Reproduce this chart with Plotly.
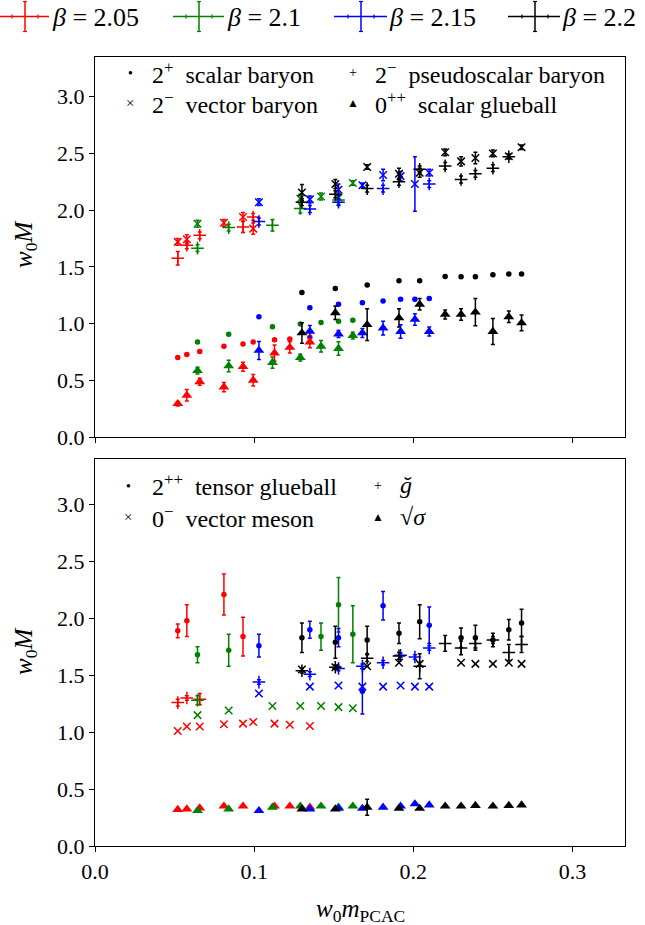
import plotly.graph_objects as go

# ---------------- data ----------------
beta_labels = ["2.05", "2.1", "2.15", "2.2"]
beta_colors = ["#ff0000", "#008000", "#0000ff", "#000000"]

# w0 m_PCAC per beta
m_205 = [0.052, 0.0577, 0.0658, 0.081, 0.093, 0.0994, 0.1128, 0.1224, 0.135]
m_21 = [0.0644, 0.084, 0.1115, 0.129, 0.142, 0.153, 0.162]
m_215 = [0.103, 0.135, 0.153, 0.168, 0.181, 0.192, 0.201, 0.210]
m_22 = [0.130, 0.151, 0.171, 0.191, 0.204, 0.220, 0.230, 0.239, 0.250, 0.260, 0.268]

# --- top panel: 2+ scalar baryon
scalar_baryon_205 = [0.70, 0.727, 0.754, 0.80, 0.82, 0.837, 0.857, 0.864, 0.88]
scalar_baryon_21 = [0.837, 0.905, 0.973, 0.997, 1.01, 1.02, 1.03]
scalar_baryon_215 = [1.06, 1.14, 1.17, 1.184, 1.20, 1.214, 1.214, 1.22]
scalar_baryon_22 = [1.273, 1.31, 1.34, 1.377, 1.377, 1.416, 1.413, 1.413, 1.43, 1.436, 1.436]
scalar_baryon_err_205 = [0.01, 0.01, 0.01, 0.01, 0.01, 0.01, 0.01, 0.01, 0.01]
scalar_baryon_err_21 = [0.01, 0.01, 0.01, 0.01, 0.01, 0.01, 0.01]
scalar_baryon_err_215 = [0.01, 0.01, 0.01, 0.01, 0.01, 0.01, 0.01, 0.01]
scalar_baryon_err_22 = [0.01, 0.01, 0.01, 0.01, 0.01, 0.01, 0.01, 0.01, 0.01, 0.01, 0.01]

# --- top panel: 2- pseudoscalar baryon
pseudo_baryon_205 = [1.576, 1.69, 1.778, None, 1.852, 1.94, None, None, None]
pseudo_baryon_21 = [1.665, 1.846, 1.867, 2.015, None, 2.09, None]
pseudo_baryon_215 = [1.90, 2.01, 2.07, None, 2.19, None, None, 2.23]
pseudo_baryon_22 = [2.07, 2.14, 2.19, 2.25, 2.36, 2.39, 2.27, 2.32, 2.37, 2.47, None]
pseudo_baryon_err_205 = [0.06, 0.03, 0.03, 0.0, 0.05, 0.03, 0.0, 0.0, 0.0]
pseudo_baryon_err_21 = [0.03, 0.03, 0.05, 0.04, 0.0, 0.04, 0.0]
pseudo_baryon_err_215 = [0.03, 0.03, 0.03, 0.0, 0.03, 0.0, 0.0, 0.03]
pseudo_baryon_err_22 = [0.03, 0.03, 0.03, 0.03, 0.03, 0.03, 0.03, 0.03, 0.03, 0.02, 0.0]

# --- top panel: 2- vector baryon
vector_baryon_205 = [1.72, 1.743, None, 1.888, 1.94, 1.837, None, None, None]
vector_baryon_21 = [1.88, None, None, 2.10, 2.12, 2.11, 2.24]
vector_baryon_215 = [2.07, 2.095, 2.18, 2.22, 2.31, 2.30, 2.23, 2.33]
vector_baryon_22 = [2.155, 2.23, 2.38, 2.32, 2.33, 2.51, 2.43, 2.46, 2.50, 2.475, 2.555]
vector_baryon_err_205 = [0.03, 0.04, 0.0, 0.03, 0.04, 0.05, 0.0, 0.0, 0.0]
vector_baryon_err_21 = [0.03, 0.0, 0.0, 0.04, 0.03, 0.04, 0.02]
vector_baryon_err_215 = [0.03, 0.03, 0.05, 0.02, 0.05, 0.04, 0.24, 0.03]
vector_baryon_err_22 = [0.07, 0.04, 0.02, 0.05, 0.04, 0.03, 0.04, 0.05, 0.03, 0.02, 0.02]

# --- top panel: 0++ scalar glueball
scalar_glue_205 = [0.294, 0.368, 0.487, 0.44, 0.62, 0.50, 0.74, 0.79, 0.837]
scalar_glue_21 = [0.585, 0.626, 0.656, 0.70, 0.80, 0.78, 0.893]
scalar_glue_215 = [0.763, 0.932, 0.908, 0.917, 0.96, 0.93, 1.036, 0.93]
scalar_glue_22 = [0.917, 1.095, 0.99, 1.05, 1.17, 1.08, 1.08, 1.10, 0.93, 1.06, 1.006]
scalar_glue_err_205 = [0.02, 0.05, 0.03, 0.04, 0.04, 0.05, 0.07, 0.05, 0.05]
scalar_glue_err_21 = [0.03, 0.05, 0.05, 0.03, 0.05, 0.06, 0.03]
scalar_glue_err_215 = [0.08, 0.05, 0.03, 0.04, 0.06, 0.06, 0.05, 0.04]
scalar_glue_err_22 = [0.09, 0.06, 0.14, 0.08, 0.05, 0.04, 0.05, 0.12, 0.115, 0.05, 0.07]

# --- bottom panel: 2++ tensor glueball
tensor_glue_205 = [1.89, 1.98, None, 2.21, 1.84, None, None, None, None]
tensor_glue_21 = [1.68, 1.72, None, None, 1.84, 2.12, 1.86]
tensor_glue_215 = [1.76, 1.90, 1.83, 1.36, 2.11, None, None, 1.94]
tensor_glue_22 = [1.83, 1.79, 1.81, 1.87, 1.97, None, 1.83, 1.83, 1.81, 1.90, 1.96]
tensor_glue_err_205 = [0.06, 0.14, 0.0, 0.18, 0.17, 0.0, 0.0, 0.0, 0.0]
tensor_glue_err_21 = [0.07, 0.14, 0.0, 0.0, 0.12, 0.24, 0.25]
tensor_glue_err_215 = [0.10, 0.075, 0.08, 0.20, 0.125, 0.0, 0.0, 0.16]
tensor_glue_err_22 = [0.13, 0.14, 0.12, 0.09, 0.15, 0.0, 0.085, 0.11, 0.06, 0.09, 0.12]

# --- bottom panel: g-check
gcheck_205 = [1.26, 1.30, 1.29, None, None, None, None, None, None]
gcheck_21 = [1.28, None, None, None, None, None, None]
gcheck_215 = [1.44, 1.51, 1.56, 1.58, 1.61, 1.675, 1.66, 1.74]
gcheck_22 = [1.54, 1.57, 1.65, 1.67, 1.58, 1.78, 1.74, 1.78, 1.81, 1.70, 1.77]
gcheck_err_205 = [0.03, 0.02, 0.05, 0.0, 0.0, 0.0, 0.0, 0.0, 0.0]
gcheck_err_21 = [0.04, 0.0, 0.0, 0.0, 0.0, 0.0, 0.0]
gcheck_err_215 = [0.02, 0.02, 0.02, 0.02, 0.02, 0.02, 0.02, 0.02]
gcheck_err_22 = [0.02, 0.02, 0.03, 0.03, 0.11, 0.07, 0.06, 0.04, 0.03, 0.07, 0.07]

# --- bottom panel: 0- vector meson
vector_meson_205 = [1.01, 1.05, 1.05, 1.07, 1.075, 1.09, 1.075, 1.065, 1.055]
vector_meson_21 = [1.15, 1.19, 1.23, 1.23, 1.23, 1.22, 1.21]
vector_meson_215 = [1.34, 1.40, 1.41, 1.40, 1.40, 1.41, 1.40, 1.40]
vector_meson_22 = [1.55, 1.57, 1.58, 1.61, 1.60, None, 1.61, 1.60, 1.60, 1.61, 1.60]

# --- bottom panel: sqrt(sigma)
sqrt_sigma_205 = [0.32, 0.325, 0.333, 0.35, 0.35, None, 0.35, 0.35, 0.34]
sqrt_sigma_21 = [0.31, 0.325, 0.34, 0.35, 0.35, 0.34, 0.35]
sqrt_sigma_215 = [0.31, 0.325, 0.33, 0.33, 0.34, 0.35, 0.37, 0.36]
sqrt_sigma_22 = [0.325, 0.325, 0.34, 0.33, 0.33, 0.35, 0.35, 0.355, 0.35, 0.355, 0.36]
sqrt_sigma_err_22 = [0.005, 0.005, 0.07, 0.005, 0.005, 0.005, 0.005, 0.005, 0.005, 0.005, 0.005]

x_ticks = [0.0, 0.1, 0.2, 0.3]
y_ticks = [0.0, 0.5, 1.0, 1.5, 2.0, 2.5, 3.0]

# ---------------- figure ----------------
FONT = "Liberation Serif"
W, H = 645, 925
L, R, T, B = 95, 20, 57, 79


def px_x(p):
    return (p - L) / (W - L - R)


def px_y(p):
    return (H - B - p) / (H - T - B)


top_dom = [px_y(437), 1.0]
bot_dom = [0.0, px_y(459)]

fig = go.Figure()

styles = {
    "dot": dict(symbol="circle", size=5.5),
    "plus": dict(symbol="cross-thin", size=9),
    "x": dict(symbol="x-thin", size=7.5),
    "tri": dict(symbol="triangle-up", size=9.5),
}


def add(xs, ys, errs, color, kind, panel):
    mk = dict(styles[kind])
    mk["color"] = color
    if kind in ("plus", "x"):
        mk["line"] = dict(color=color, width=1.5)
    else:
        mk["line"] = dict(width=0)
    tr = dict(
        x=xs, y=ys, mode="markers", marker=mk, showlegend=False,
        hoverinfo="x+y",
        xaxis="x" if panel == 0 else "x2",
        yaxis="y" if panel == 0 else "y2",
    )
    if errs is not None:
        tr["error_y"] = dict(type="data", array=errs, visible=True,
                             color=color, thickness=1.5, width=2)
    fig.add_trace(go.Scatter(**tr))


ms = [m_205, m_21, m_215, m_22]
top_sets = [
    ([scalar_baryon_205, scalar_baryon_21, scalar_baryon_215, scalar_baryon_22],
     [scalar_baryon_err_205, scalar_baryon_err_21, scalar_baryon_err_215, scalar_baryon_err_22], "dot"),
    ([pseudo_baryon_205, pseudo_baryon_21, pseudo_baryon_215, pseudo_baryon_22],
     [pseudo_baryon_err_205, pseudo_baryon_err_21, pseudo_baryon_err_215, pseudo_baryon_err_22], "plus"),
    ([vector_baryon_205, vector_baryon_21, vector_baryon_215, vector_baryon_22],
     [vector_baryon_err_205, vector_baryon_err_21, vector_baryon_err_215, vector_baryon_err_22], "x"),
    ([scalar_glue_205, scalar_glue_21, scalar_glue_215, scalar_glue_22],
     [scalar_glue_err_205, scalar_glue_err_21, scalar_glue_err_215, scalar_glue_err_22], "tri"),
]
bot_sets = [
    ([tensor_glue_205, tensor_glue_21, tensor_glue_215, tensor_glue_22],
     [tensor_glue_err_205, tensor_glue_err_21, tensor_glue_err_215, tensor_glue_err_22], "dot"),
    ([gcheck_205, gcheck_21, gcheck_215, gcheck_22],
     [gcheck_err_205, gcheck_err_21, gcheck_err_215, gcheck_err_22], "plus"),
    ([vector_meson_205, vector_meson_21, vector_meson_215, vector_meson_22],
     [None, None, None, None], "x"),
    ([sqrt_sigma_205, sqrt_sigma_21, sqrt_sigma_215, sqrt_sigma_22],
     [None, None, None, sqrt_sigma_err_22], "tri"),
]

for b in range(4):
    for vals, errs, kind in top_sets:
        add(ms[b], vals[b], errs[b], beta_colors[b], kind, 0)
    for vals, errs, kind in bot_sets:
        add(ms[b], vals[b], errs[b], beta_colors[b], kind, 1)

axis_common = dict(
    showline=True, linecolor="black", linewidth=1.2, mirror=True,
    ticks="outside", ticklen=5, tickwidth=1.2, tickcolor="black",
    showgrid=False, zeroline=False,
    tickfont=dict(family=FONT, size=22, color="black"),
)

fig.update_layout(
    width=W, height=H,
    margin=dict(l=L, r=R, t=T, b=B),
    paper_bgcolor="white", plot_bgcolor="white",
    xaxis=dict(axis_common, domain=[0, 1], range=[0, 0.333], anchor="y",
               tickvals=x_ticks, showticklabels=False),
    yaxis=dict(axis_common, domain=top_dom, range=[0, 3.35], anchor="x",
               tickvals=y_ticks, tickformat=".1f"),
    xaxis2=dict(axis_common, domain=[0, 1], range=[0, 0.333], anchor="y2",
                matches="x", tickvals=x_ticks, tickformat=".1f"),
    yaxis2=dict(axis_common, domain=bot_dom, range=[0, 3.40], anchor="x2",
                tickvals=y_ticks, tickformat=".1f"),
    showlegend=False,
)

ann = []
shapes = []


def text(x, y, s, size=22, xanchor="left", angle=0, yanchor="middle"):
    ann.append(dict(x=x, y=y, xref="paper", yref="paper", text=s,
                    showarrow=False, xanchor=xanchor, yanchor=yanchor,
                    textangle=angle,
                    font=dict(family=FONT, size=size, color="black")))


def line(x0, y0, x1, y1, color, w=1.5):
    shapes.append(dict(type="line", xref="paper", yref="paper",
                       x0=x0, y0=y0, x1=x1, y1=y1,
                       line=dict(color=color, width=w)))


# beta legend above the panels
leg_pos = [(0, 49, 25, 50), (173, 224, 199, 225), (334, 387, 361, 387), (508, 560, 535, 560)]
ly = 16.5
for (a, b2, c, t), col, lab in zip(leg_pos, beta_colors, beta_labels):
    line(px_x(a), px_y(ly), px_x(b2), px_y(ly), col, 1.5)
    line(px_x(c), px_y(ly - 15), px_x(c), px_y(ly + 15), col, 1.5)
    line(px_x(c - 2), px_y(ly - 15), px_x(c + 2), px_y(ly - 15), col, 1.2)
    line(px_x(c - 2), px_y(ly + 15), px_x(c + 2), px_y(ly + 15), col, 1.2)
    line(px_x(c - 13), px_y(ly - 2), px_x(c - 13), px_y(ly + 2), col, 1.2)
    line(px_x(c + 13), px_y(ly - 2), px_x(c + 13), px_y(ly + 2), col, 1.2)
    text(px_x(t), px_y(ly + 1), "<i>β</i> = " + lab, size=26)

# inner legend, top panel
LS = 24
text(px_x(130), px_y(73), "●", size=8, xanchor="center")
text(px_x(150), px_y(73), "2<sup>+</sup>&nbsp; scalar baryon", size=LS)
text(px_x(353), px_y(73), "+", size=14, xanchor="center")
text(px_x(373), px_y(73), "2<sup>−</sup>&nbsp; pseudoscalar baryon", size=LS)
text(px_x(130), px_y(103), "×", size=15, xanchor="center")
text(px_x(150), px_y(103), "2<sup>−</sup>&nbsp; vector baryon", size=LS)
text(px_x(353), px_y(103), "▲", size=12, xanchor="center")
text(px_x(373), px_y(103), "0<sup>++</sup>&nbsp; scalar glueball", size=LS)

# inner legend, bottom panel
text(px_x(128), px_y(485), "●", size=8, xanchor="center")
text(px_x(150), px_y(485), "2<sup>++</sup>&nbsp; tensor glueball", size=LS)
text(px_x(378), px_y(485), "+", size=14, xanchor="center")
text(px_x(398), px_y(485), "<i>ğ</i>", size=LS)
text(px_x(128), px_y(517), "×", size=15, xanchor="center")
text(px_x(150), px_y(517), "0<sup>−</sup>&nbsp; vector meson", size=LS)
text(px_x(378), px_y(517), "▲", size=12, xanchor="center")
text(px_x(398), px_y(517), "√<i>σ</i>", size=LS)

# axis titles
text(px_x(25), px_y(245), "<i>w</i><sub>0</sub><i>M</i>", size=25, xanchor="center", angle=-90)
text(px_x(25), px_y(652), "<i>w</i><sub>0</sub><i>M</i>", size=25, xanchor="center", angle=-90)
text(px_x(360), px_y(910), "<i>w</i><sub>0</sub><i>m</i><sub>PCAC</sub>", size=25, xanchor="center")

fig.update_layout(annotations=ann, shapes=shapes)
fig.write_html("out.html", config={"displayModeBar": False})

# remove the browser's default page margin so the figure fills the window
with open("out.html", "r", encoding="utf-8") as f:
    html = f.read()
html = html.replace("<body>", '<body style="margin:0;padding:0;overflow:hidden;">', 1)
with open("out.html", "w", encoding="utf-8") as f:
    f.write(html)
